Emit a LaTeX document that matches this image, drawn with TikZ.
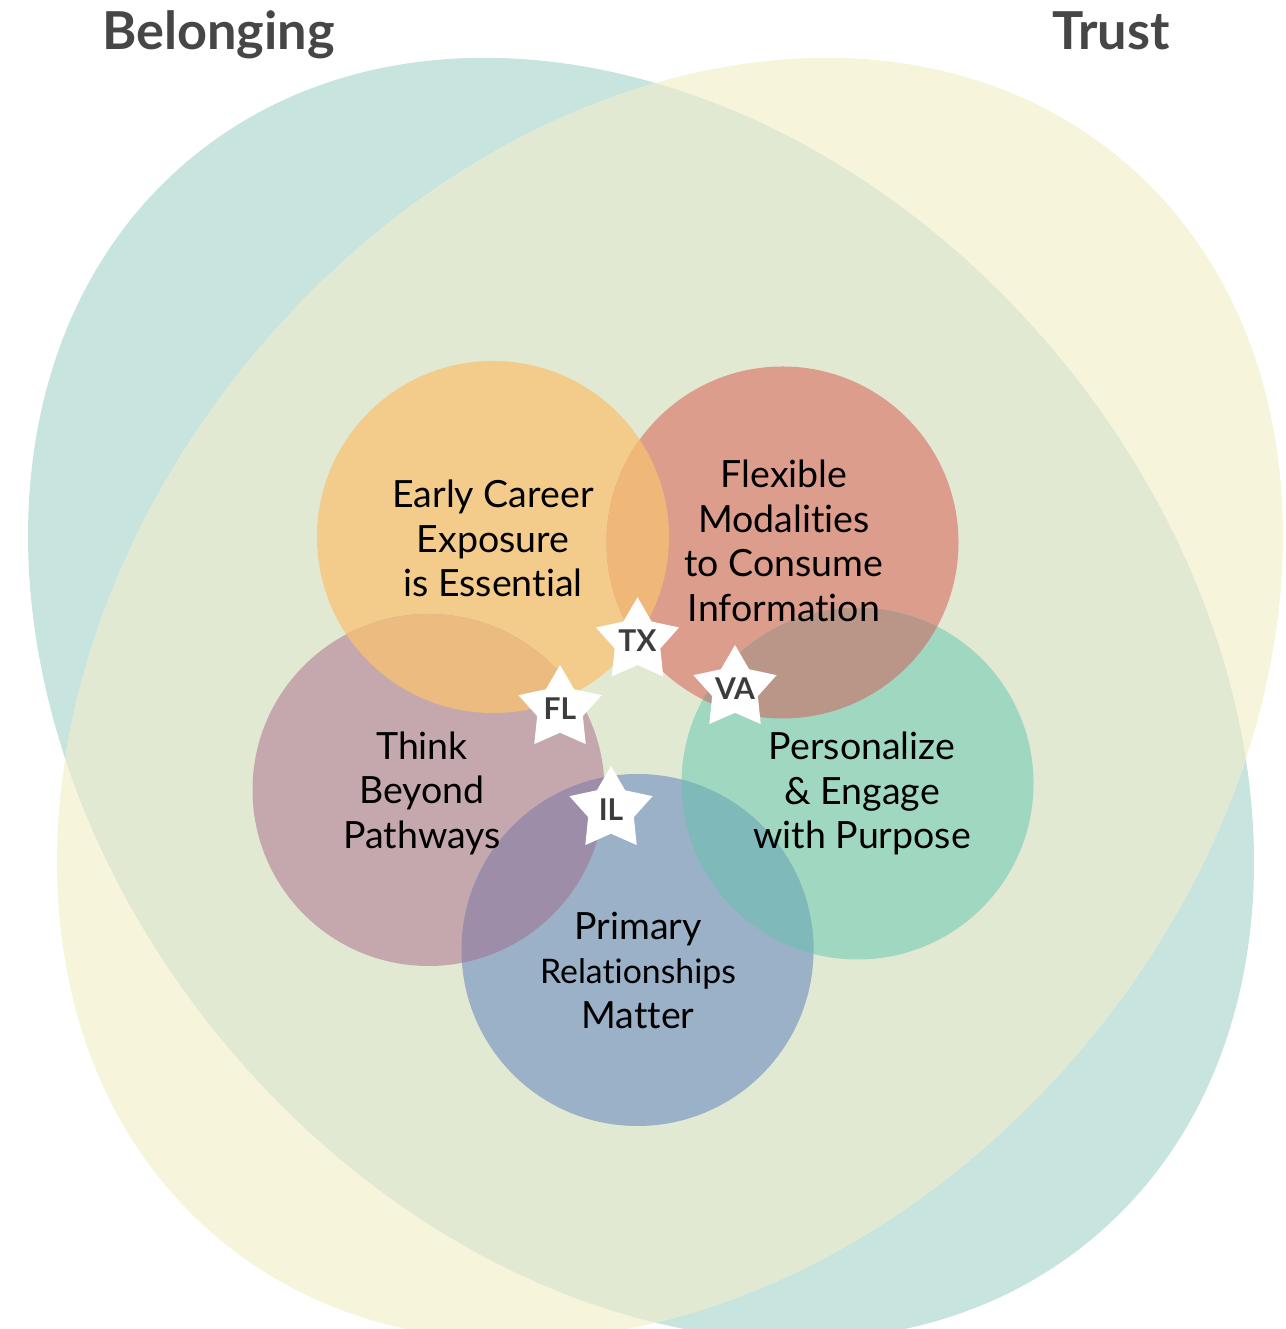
\documentclass[tikz,border=0pt]{standalone}
\usepackage{fontspec}
\setmainfont{Lato}[Ligatures=NoCommon]
\usetikzlibrary{shapes.geometric}
\definecolor{tealbg}{HTML}{C8E4DE}
\definecolor{yellowbg}{HTML}{F6F5DC}
\definecolor{overlapbg}{HTML}{E1E9D2}
\definecolor{orangec}{HTML}{F3CB8B}
\definecolor{redc}{HTML}{DC9D8C}
\definecolor{mauvec}{HTML}{C4A8AE}
\definecolor{greenc}{HTML}{A0D7C0}
\definecolor{bluec}{HTML}{9BB1C7}
\definecolor{ovOR}{HTML}{F0B878}
\definecolor{ovOM}{HTML}{EBBB80}
\definecolor{ovRG}{HTML}{BA9689}
\definecolor{ovMB}{HTML}{9E8DA8}
\definecolor{ovBG}{HTML}{7FB9BA}
\definecolor{titlegray}{HTML}{464646}
\definecolor{stargray}{HTML}{3C3C3C}
\begin{document}
\begin{tikzpicture}[x=1pt,y=1pt,
  bubble/.style={circle, inner sep=0pt, minimum size=352pt, draw=none},
  bodytext/.style={font=\fontsize{37.5}{44.5}\selectfont, text=black, inner sep=0pt, anchor=base},
  titletext/.style={font=\fontsize{52.3}{60}\selectfont\bfseries, text=titlegray, inner sep=0pt, anchor=base west},
  starnode/.style={star, star points=5, star point ratio=1.82, minimum size=87.4pt, inner sep=0pt, fill=white, draw=none},
  starlabel/.style={font=\fontsize{30}{34}\selectfont\bfseries, text=stargray, inner sep=0pt},
]
\useasboundingbox (0,0) rectangle (1285,1329);
\clip (0,0) rectangle (1285,1329);
% big shapes
\fill[tealbg, rotate around={-50:(641,630)}] (641,630) ellipse [x radius=703.5, y radius=540.2];
\fill[yellowbg, rotate around={50:(670,630)}] (670,630) ellipse [x radius=703.5, y radius=540.2];
\begin{scope}
  \path[clip, rotate around={-50:(641,630)}] (641,630) ellipse [x radius=703.5, y radius=540.2];
  \fill[overlapbg, rotate around={50:(670,630)}] (670,630) ellipse [x radius=703.5, y radius=540.2];
\end{scope}
% circles
\node[bubble, fill=orangec] (early) at (493,792) {};
\node[bubble, fill=redc] (flex) at (782.5,786.5) {};
\node[bubble, fill=mauvec] (think) at (428.5,539) {};
\node[bubble, fill=greenc] (pers) at (857.5,545.5) {};
\node[bubble, fill=bluec] (prim) at (637.5,379) {};
% overlaps
\begin{scope}\clip (early.center) circle (176); \fill[ovOR] (flex.center) circle (176);\end{scope}
\begin{scope}\clip (early.center) circle (176); \fill[ovOM] (think.center) circle (176);\end{scope}
\begin{scope}\clip (flex.center) circle (176); \fill[ovRG] (pers.center) circle (176);\end{scope}
\begin{scope}\clip (think.center) circle (176); \fill[ovMB] (prim.center) circle (176);\end{scope}
\begin{scope}\clip (prim.center) circle (176); \fill[ovBG] (pers.center) circle (176);\end{scope}
% stars
\node[starnode] (tx) at (637.5,688) {};
\node[starnode] (fl) at (560,620.3) {};
\node[starnode] (va) at (735,640.3) {};
\node[starnode] (il) at (611,519.3) {};
\node[starlabel] (txl) at (tx.center) {TX};
\node[starlabel] (fll) at (fl.center) {FL};
\node[starlabel] (val) at (va.center) {VA};
\node[starlabel] (ill) at (il.center) {IL};
% texts
\node[bodytext] (earlyt) at (493,821) {\begin{tabular}[t]{@{}c@{}}Early Career\\Exposure\\is Essential\end{tabular}};
\node[bodytext] (flext) at (784,841) {\begin{tabular}[t]{@{}c@{}}Flexible\\Modalities\\to Consume\\Information\end{tabular}};
\node[bodytext] (thinkt) at (422,569.5) {\begin{tabular}[t]{@{}c@{}}Think\\Beyond\\Pathways\end{tabular}};
\node[bodytext] (perst) at (862,569) {\begin{tabular}[t]{@{}c@{}}Personalize\\\& Engage\\with Purpose\end{tabular}};
\node[bodytext] (primt) at (638,389.5) {\begin{tabular}[t]{@{}c@{}}Primary\\{\fontsize{33.8}{44.5}\selectfont Relationships}\\Matter\end{tabular}};
% titles
\node[titletext] (belong) at (102,1279) {Belonging};
\node[titletext] (trust) at (1052,1279) {Trust};
\end{tikzpicture}
\end{document}
